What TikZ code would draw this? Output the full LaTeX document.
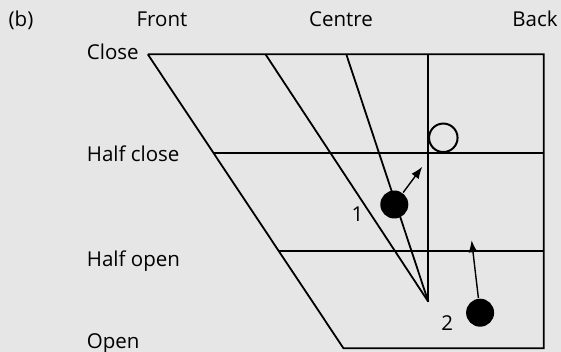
\documentclass[tikz,border=0pt]{standalone}
\usepackage{fontspec}
\setmainfont{Open Sans}
\usetikzlibrary{arrows.meta}
\definecolor{bg}{RGB}{230,230,230}
\begin{document}
\begin{tikzpicture}[x=1pt,y=-1pt, line width=1.8pt,
  lbl/.style={font=\fontsize{20.5}{24}\selectfont, inner sep=0pt},
  ball/.style={circle, fill=black, minimum size=28pt, inner sep=0pt},
  hole/.style={circle, draw=black, line width=2pt, minimum size=28.5pt, inner sep=0pt},
  arr/.style={-{Latex[length=12pt,width=9pt]}, line width=1.4pt}]
\fill[bg] (0,0) rectangle (561,352);
\useasboundingbox (0,0) rectangle (561,352);
% grid points
\coordinate (tl) at (147.8,54.3);
\coordinate (t2) at (265.5,54.3);
\coordinate (t3) at (346.3,54.3);
\coordinate (tv) at (428.3,54.3);
\coordinate (tr) at (543.8,54.3);
\coordinate (hcl) at (213.6,152.7);
\coordinate (hcr) at (543.8,152.7);
\coordinate (hol) at (278.8,250.7);
\coordinate (hor) at (543.8,250.7);
\coordinate (bl) at (343.5,348.3);
\coordinate (br) at (543.8,348.3);
\coordinate (apex) at (428.3,301.7);
% frame
\draw (tl) -- (tr) -- (br) -- (bl) -- (tl);
\draw (hcl) -- (hcr);
\draw (hol) -- (hor);
\draw (t2) -- (apex);
\draw (t3) -- (apex);
\draw (tv) -- (apex);
% labels
\node[lbl, anchor=base] (b) at (21,26.7) {(b)};
\node[lbl, anchor=base] (front) at (162,26.7) {Front};
\node[lbl, anchor=base] (centre) at (341,26.7) {Centre};
\node[lbl, anchor=base] (back) at (535,26.7) {Back};
\node[lbl, anchor=base west] (close) at (86,59.5) {Close};
\node[lbl, anchor=base west] (hclose) at (86,161.7) {Half close};
\node[lbl, anchor=base west] (hopen) at (86,266.7) {Half open};
\node[lbl, anchor=base west] (open) at (86,348.5) {Open};
% balls
\node[hole] (h) at (443.3,137.8) {};
\node[ball] (b1) at (394.3,204.5) {};
\node[ball] (b2) at (480.1,312.7) {};
\coordinate (a1) at (422.3,166.7);
\coordinate (a2) at (471.6,240.2);
\draw[arr] (b1) -- (a1);
\draw[arr] (b2) -- (a2);
\node[lbl] (n1) at (357.5,214.5) {1};
\node[lbl] (n2) at (447.2,323.3) {2};
\end{tikzpicture}
\end{document}
